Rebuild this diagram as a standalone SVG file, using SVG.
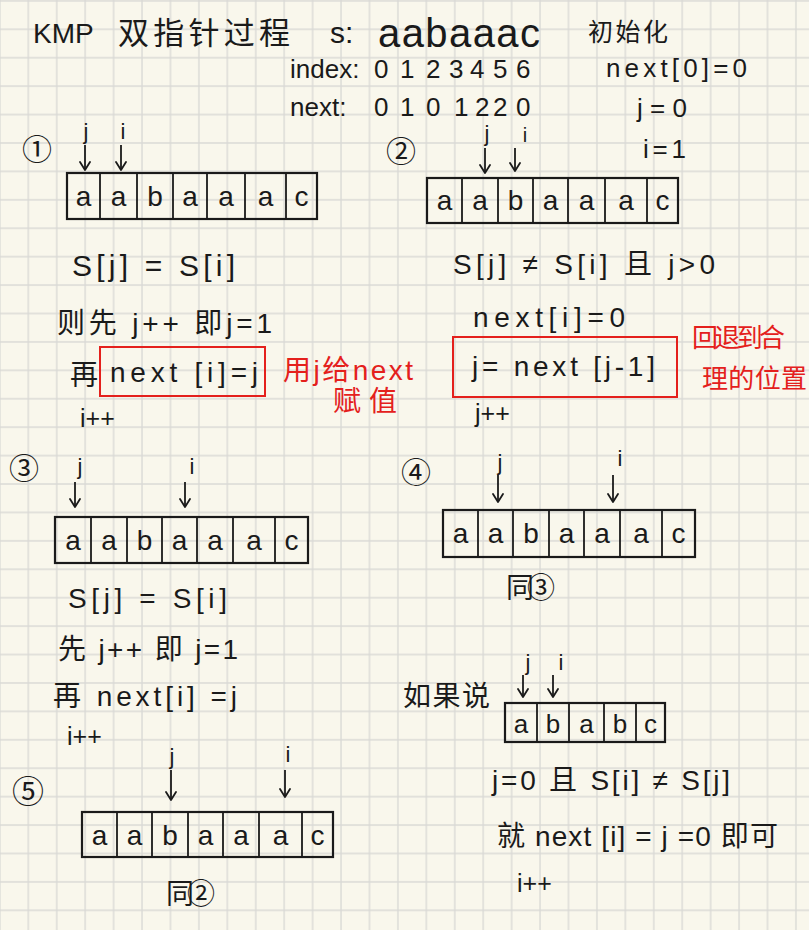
<svg xmlns="http://www.w3.org/2000/svg" width="809" height="930" viewBox="0 0 809 930">
<style>
.t{font-family:"Liberation Sans","Noto Sans CJK SC",sans-serif;fill:#1a1a1a;font-size:28px}
.c{font-family:"Noto Sans CJK SC",sans-serif;fill:#1a1a1a;font-size:28px}
.r{fill:#e4201c}
.p{font-family:"Liberation Sans",sans-serif;fill:#1a1a1a;font-size:22px;text-anchor:middle}
.cell{font-family:"Liberation Sans",sans-serif;fill:#1a1a1a;font-size:28px;text-anchor:middle}
.num{font-family:"Noto Sans CJK SC",sans-serif;fill:#1a1a1a;font-size:30px;text-anchor:middle;dominant-baseline:central}
.box{fill:none;stroke:#1a1a1a;stroke-width:2.2}
.div{stroke:#1a1a1a;stroke-width:1.8}
.rbox{fill:none;stroke:#e4201c;stroke-width:2}
.arr{stroke:#1a1a1a;stroke-width:1.8;fill:none;marker-end:url(#ah)}
.inc{font-size:25px}
</style>
<defs>
<pattern id="grid" patternUnits="userSpaceOnUse" x="-1.1" y="-0.1" width="28.43" height="28.42">
<path d="M1 0V28.42M0 1H28.43" stroke="#dadad6" stroke-width="1.4" fill="none"/>
</pattern>
<marker id="ah" viewBox="-10 -6 12 12" refX="0" refY="0" markerWidth="12" markerHeight="12" markerUnits="userSpaceOnUse" orient="auto">
<path d="M-8,-5 L0,0 L-8,5" fill="none" stroke="#1a1a1a" stroke-width="1.8" stroke-linecap="round" stroke-linejoin="round"/>
</marker>
</defs>
<rect width="809" height="930" fill="#f9f7ec"/>
<rect width="809" height="930" fill="url(#grid)"/>

<g id="header">
<text class="t" x="33" y="43" style="font-size:28px">KMP</text>
<text class="c" x="118" y="44" style="font-size:31px" textLength="172">双指针过程</text>
<text class="t" x="330" y="43" style="font-size:30px">s:</text>
<text class="t" x="378" y="47" style="font-size:40px" textLength="162">aabaaac</text>
<text class="c" x="588" y="41" style="font-size:25px" textLength="80">初始化</text>
<text class="t" x="290" y="78" style="font-size:26px">index:<tspan x="374">0</tspan> <tspan x="400">1</tspan> <tspan x="426">2</tspan> <tspan x="449">3</tspan> <tspan x="470">4</tspan> <tspan x="493">5</tspan> <tspan x="516">6</tspan></text>
<text class="t" x="290" y="116" style="font-size:26px">next:<tspan x="374">0</tspan> <tspan x="400">1</tspan> <tspan x="426">0</tspan> <tspan x="454">1</tspan> <tspan x="475">2</tspan> <tspan x="493">2</tspan> <tspan x="516">0</tspan></text>
<text class="t" x="606" y="77" style="font-size:26px" textLength="141">next[0]=0</text>
<text class="t" x="637" y="117" style="font-size:26px" textLength="50">j=0</text>
<text class="t" x="643" y="158" style="font-size:26px" textLength="43">i=1</text>
</g>

<g id="connectors">
<line class="arr" x1="85" y1="145" x2="85" y2="170"/>
<line class="arr" x1="121" y1="145" x2="121" y2="170"/>
<line class="arr" x1="485" y1="148" x2="485" y2="173"/>
<line class="arr" x1="515" y1="148" x2="515" y2="171"/>
<line class="arr" x1="75" y1="482" x2="75" y2="507"/>
<line class="arr" x1="185" y1="482" x2="185" y2="507"/>
<line class="arr" x1="498" y1="475" x2="498" y2="502"/>
<line class="arr" x1="613" y1="475" x2="613" y2="502"/>
<line class="arr" x1="523" y1="675" x2="523" y2="697"/>
<line class="arr" x1="553" y1="675" x2="553" y2="697"/>
<line class="arr" x1="171" y1="770" x2="171" y2="800"/>
<line class="arr" x1="285" y1="770" x2="285" y2="797"/>
</g>

<g id="step1">
<text class="num" x="37" y="147">①</text>
<text class="p" x="86" y="139">j</text>
<text class="p" x="123" y="139">i</text>
<rect class="box" x="67" y="173" width="250" height="46"/>
<path class="div" d="M100 173V219M137 173V219M173 173V219M207 173V219M245 173V219M286 173V219"/>
<text class="cell" y="206"><tspan x="83.5">a</tspan><tspan x="118.5">a</tspan><tspan x="155">b</tspan><tspan x="190">a</tspan><tspan x="226">a</tspan><tspan x="265.5">a</tspan><tspan x="301.5">c</tspan></text>
<text class="t" x="72" y="276" style="font-size:30px" textLength="163">S[j] = S[i]</text>
<text class="t" x="57" y="333" textLength="215">则先 j++ 即j=1</text>
<text class="t" x="70" y="385">再</text>
<rect class="rbox" x="100" y="347" width="165" height="49"/>
<text class="t" x="110" y="382" textLength="148">next [i]=j</text>
<text class="t r" x="283" y="380" textLength="130">用j给next</text>
<text class="t r" x="333" y="411" textLength="64">赋值</text>
<text class="t inc" x="80" y="427">i++</text>
</g>

<g id="step2">
<text class="num" x="401" y="149">②</text>
<text class="p" x="487" y="141">j</text>
<text class="p" x="525" y="142" style="font-size:20px">i</text>
<rect class="box" x="427" y="178" width="251" height="45"/>
<path class="div" d="M462 178V223M498 178V223M533 178V223M568 178V223M605 178V223M647 178V223"/>
<text class="cell" y="210"><tspan x="444.5">a</tspan><tspan x="480">a</tspan><tspan x="515.5">b</tspan><tspan x="550.5">a</tspan><tspan x="586.5">a</tspan><tspan x="626">a</tspan><tspan x="662.5">c</tspan></text>
<text class="t" x="453" y="274" textLength="262">S[j] ≠ S[i] 且 j&gt;0</text>
<text class="t" x="473" y="327" textLength="152">next[i]=0</text>
<rect class="rbox" x="453" y="337" width="224" height="60"/>
<text class="t" x="472" y="376" textLength="183">j= next [j-1]</text>
<text class="t r" x="692" y="347" style="font-size:26px" textLength="93">回退到合</text>
<text class="t r" x="702" y="388" style="font-size:26px" textLength="105">理的位置</text>
<text class="t inc" x="475" y="422">j++</text>
</g>

<g id="step3">
<text class="num" x="24" y="466">③</text>
<text class="p" x="80" y="474">j</text>
<text class="p" x="192" y="474">i</text>
<rect class="box" x="55" y="517" width="253" height="46"/>
<path class="div" d="M91 517V563M127 517V563M162 517V563M197 517V563M233 517V563M275 517V563"/>
<text class="cell" y="550"><tspan x="73">a</tspan><tspan x="109">a</tspan><tspan x="144.5">b</tspan><tspan x="179.5">a</tspan><tspan x="215">a</tspan><tspan x="254">a</tspan><tspan x="291.5">c</tspan></text>
<text class="t" x="68" y="608" textLength="159">S[j] = S[i]</text>
<text class="t" x="58" y="659" textLength="180">先 j++ 即 j=1</text>
<text class="t" x="53" y="706" textLength="184">再 next[i] =j</text>
<text class="t inc" x="67" y="745">i++</text>
</g>

<g id="step4">
<text class="num" x="416" y="470">④</text>
<text class="p" x="500" y="470">j</text>
<text class="p" x="620" y="466">i</text>
<rect class="box" x="443" y="510" width="252" height="47"/>
<path class="div" d="M478 510V557M513 510V557M549 510V557M584 510V557M620 510V557M662 510V557"/>
<text class="cell" y="543"><tspan x="460.5">a</tspan><tspan x="495.5">a</tspan><tspan x="531">b</tspan><tspan x="566.5">a</tspan><tspan x="602">a</tspan><tspan x="641">a</tspan><tspan x="678.5">c</tspan></text>
<text class="t" x="506" y="598" textLength="49">同③</text>
</g>

<g id="note">
<text class="t" x="403" y="706" textLength="87">如果说</text>
<text class="p" x="528" y="670">j</text>
<text class="p" x="561" y="670">i</text>
<rect class="box" x="505" y="703" width="160" height="39"/>
<path class="div" d="M537 703V742M569 703V742M604 703V742M636 703V742"/>
<text class="cell" y="733" style="font-size:26px"><tspan x="521">a</tspan><tspan x="553">b</tspan><tspan x="586.5">a</tspan><tspan x="620">b</tspan><tspan x="650.5">c</tspan></text>
<text class="t" x="492" y="790" textLength="238">j=0 且 S[i] ≠ S[j]</text>
<text class="t" x="497" y="846" textLength="281">就 next [i] = j =0 即可</text>
<text class="t inc" x="517" y="892">i++</text>
</g>

<g id="step5">
<text class="num" x="28" y="789" style="font-size:32px">⑤</text>
<text class="p" x="172" y="764">j</text>
<text class="p" x="288" y="762">i</text>
<rect class="box" x="82" y="812" width="251" height="45"/>
<path class="div" d="M117 812V857M152 812V857M188 812V857M223 812V857M259 812V857M302 812V857"/>
<text class="cell" y="845"><tspan x="99.5">a</tspan><tspan x="134.5">a</tspan><tspan x="170">b</tspan><tspan x="205.5">a</tspan><tspan x="241">a</tspan><tspan x="280.5">a</tspan><tspan x="317.5">c</tspan></text>
<text class="t" x="166" y="904" textLength="49">同②</text>
</g>
</svg>
